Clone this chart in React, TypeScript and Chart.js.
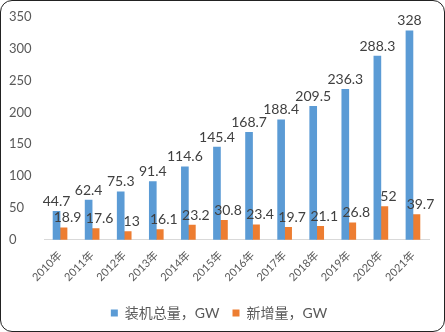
import React, { useEffect, useRef } from "react";
import { Chart, registerables } from "chart.js";
Chart.register(...registerables);

const categories = ["2010年","2011年","2012年","2013年","2014年","2015年","2016年","2017年","2018年","2019年","2020年","2021年"];
const totalValues = [44.7, 62.4, 75.3, 91.4, 114.6, 145.4, 168.7, 188.4, 209.5, 236.3, 288.3, 328];
const newValues = [18.9, 17.6, 13, 16.1, 23.2, 30.8, 23.4, 19.7, 21.1, 26.8, 52, 39.7];
const seriesNames = ["装机总量，GW", "新增量，GW"];
const FONT = "Lato, 'Noto Sans CJK SC', sans-serif";

const labelPlugin = {
  id: "valueLabels",
  afterDatasetsDraw(chart: any) {
    const ctx = chart.ctx;
    ctx.save();
    ctx.font = `14px ${FONT}`;
    ctx.fillStyle = "#404040";
    ctx.textAlign = "center";
    ctx.textBaseline = "bottom";
    chart.data.datasets.forEach((ds: any, di: number) => {
      const meta = chart.getDatasetMeta(di);
      meta.data.forEach((bar: any, i: number) => {
        const v = ds.data[i];
        ctx.fillText(String(v), bar.x + (di === 1 ? 4 : 0), bar.y - 3);
      });
    });
    ctx.restore();
  },
};

export default function App() {
  const ref = useRef<HTMLCanvasElement>(null);
  useEffect(() => {
    const chart = new Chart(ref.current!, {
      type: "bar",
      data: {
        labels: categories,
        datasets: [
          { label: seriesNames[0], data: totalValues, backgroundColor: "#5b9bd5", barThickness: 7 },
          { label: seriesNames[1], data: newValues, backgroundColor: "#ed7d31", barThickness: 7 },
        ],
      },
      plugins: [labelPlugin],
      options: {
        animation: false,
        responsive: false,
        layout: { padding: { left: 8, right: 14, top: 9, bottom: 0 } },
        plugins: {
          tooltip: { enabled: false },
          legend: {
            position: "bottom",
            labels: { boxWidth: 7, boxHeight: 7, color: "#595959", font: { family: FONT, size: 14 }, padding: 13 },
          },
        },
        scales: {
          x: {
            grid: { display: false, drawTicks: false },
            border: { color: "#d9d9d9" },
            ticks: { color: "#595959", font: { family: FONT, size: 11 }, minRotation: 45, maxRotation: 45, padding: 9 },
          },
          y: {
            min: 0,
            max: 350,
            grid: { display: false, drawTicks: false },
            border: { display: false },
            ticks: { stepSize: 50, color: "#595959", font: { family: FONT, size: 13 }, crossAlign: "far", padding: 8 },
            afterFit: (s: any) => { s.width = 35; },
          },
        },
      },
    });
    return () => chart.destroy();
  }, []);
  return (
    <div style={{ position: "absolute", left: 0, top: 0, width: 445, height: 332, boxSizing: "border-box", border: "1.5px solid #222", borderRadius: 12, overflow: "hidden", background: "#fff" }}>
      <canvas ref={ref} width={442} height={329} style={{ display: "block" }} />
    </div>
  );
}
